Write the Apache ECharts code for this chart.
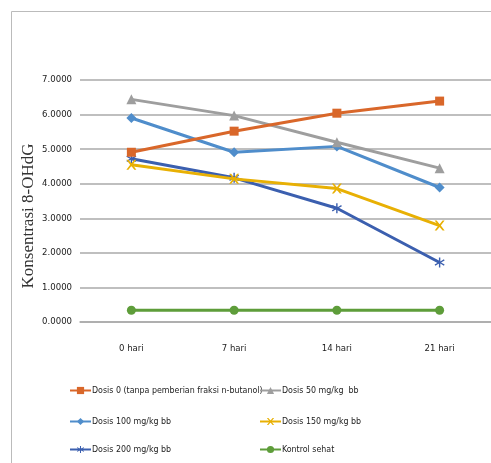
<!DOCTYPE html>
<html><head><meta charset="utf-8">
<script src="https://cdn.jsdelivr.net/npm/echarts@6/dist/echarts.min.js"></script>
<style>html,body{margin:0;padding:0;background:#fff}#c{width:491px;height:463px}</style>
</head><body><div id="c"></div>
<script>
const categories = ['0 hari', '7 hari', '14 hari', '21 hari'];
const seriesNames = ['Dosis 0 (tanpa pemberian fraksi n-butanol)', 'Dosis 50 mg/kg  bb', 'Dosis 100 mg/kg bb', 'Dosis 150 mg/kg bb', 'Dosis 200 mg/kg bb', 'Kontrol sehat'];
const dosis0 = [4.91, 5.52, 6.04, 6.39];
const dosis50 = [6.44, 5.97, 5.20, 4.45];
const dosis100 = [5.90, 4.91, 5.08, 3.89];
const dosis150 = [4.55, 4.14, 3.86, 2.79];
const dosis200 = [4.72, 4.17, 3.29, 1.72];
const kontrol = [0.34, 0.34, 0.34, 0.34];
const yTicks = [0, 1, 2, 3, 4, 5, 6, 7];

const FONT = '"DejaVu Sans Condensed", "Liberation Sans Narrow", sans-serif';
const colors = ['#D9672A', '#9E9E9E', '#4F8DCB', '#E8B004', '#3B5FAF', '#5E9D3A'];
const symbols = ['rect', 'triangle', 'diamond', 'path://M0,0 L2,0 L5,3.6 L8,0 L10,0 L6.2,5 L10,10 L8,10 L5,6.4 L2,10 L0,10 L3.8,5 Z', 'path://M4.3,0 L5.7,0 L5.7,4 L9.2,1.8 L9.9,3 L6.4,5 L9.9,7 L9.2,8.2 L5.7,6 L5.7,10 L4.3,10 L4.3,6 L0.8,8.2 L0.1,7 L3.6,5 L0.1,3 L0.8,1.8 L4.3,4 Z', 'circle'];
const sizes = [9, 10, 10, 10, 10, 9];
const datas = [dosis0, dosis50, dosis100, dosis150, dosis200, kontrol];

const series = datas.map((d, i) => ({
  name: seriesNames[i], type: 'line', data: d,
  symbol: symbols[i], symbolSize: sizes[i],
  lineStyle: { color: colors[i], width: 3 },
  itemStyle: { color: colors[i] },
  z: 10 - i
}));

const legendPos = [[69, 386], [259, 386], [69, 417], [259, 417], [69, 445], [259, 445]];
const legends = seriesNames.map((n, i) => ({
  data: [n], left: legendPos[i][0], top: legendPos[i][1], padding: 0,
  itemWidth: 21, itemHeight: 9, itemGap: 0,
  textStyle: { fontFamily: FONT, fontSize: 8.8, color: '#222', padding: [0, 0, 0, -4] },
  selectedMode: false
}));

const chart = echarts.init(document.getElementById('c'));
chart.setOption({
  animation: false,
  color: colors,
  grid: { left: 80, right: 0, top: 80, bottom: 141 },
  graphic: [
    { type: 'rect', shape: { x: 11.5, y: 11.5, width: 520, height: 500 }, style: { fill: 'none', stroke: '#BBBBBB', lineWidth: 1 }, z: -1 },
    { type: 'text', x: 29, y: 216, rotation: Math.PI / 2, style: { text: 'Konsentrasi 8-OHdG', fontFamily: '"Liberation Serif", "Times New Roman", serif', fontSize: 17, fill: '#333', align: 'center', verticalAlign: 'middle' } }
  ],
  legend: legends,
  xAxis: {
    type: 'category', data: categories, boundaryGap: true,
    axisLine: { show: true, lineStyle: { color: '#AAAAAA', width: 1.5 } },
    axisTick: { show: false },
    axisLabel: { fontFamily: FONT, fontSize: 9.5, color: '#222', margin: 22 }
  },
  yAxis: {
    type: 'value', min: 0, max: 7, interval: 1,
    axisLine: { show: false }, axisTick: { show: false },
    splitLine: { lineStyle: { color: '#AAAAAA', width: 1.5 } },
    axisLabel: { fontFamily: FONT, fontSize: 9.5, color: '#222', margin: 8, formatter: v => v.toFixed(4) }
  },
  series: series
});
</script></body></html>
